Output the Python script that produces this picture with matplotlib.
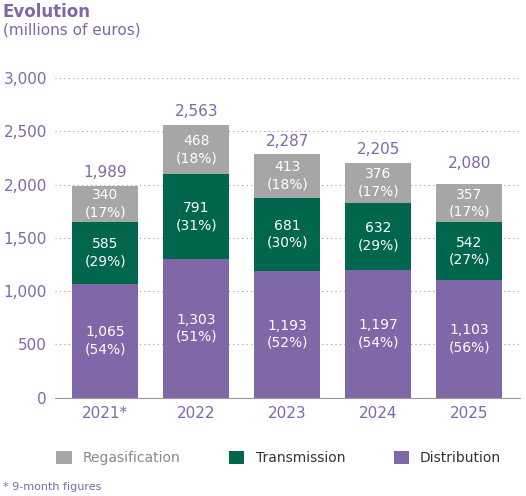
import matplotlib.pyplot as plt
import numpy as np

years = ["2021*", "2022", "2023", "2024", "2025"]
distribution = [1065, 1303, 1193, 1197, 1103]
transmission = [585, 791, 681, 632, 542]
regasification = [340, 468, 413, 376, 357]
dist_pct = [54, 51, 52, 54, 56]
trans_pct = [29, 31, 30, 29, 27]
regas_pct = [17, 18, 18, 17, 17]
totals = [1989, 2563, 2287, 2205, 2080]

purple = "#7f67a8"
green = "#00664e"
gray = "#a6a6a6"

fig = plt.figure(figsize=(5.26, 4.96), dpi=100)
ax = fig.add_axes([0.105, 0.198, 0.884, 0.645])
x = np.arange(len(years))
w = 0.73

d = np.array(distribution)
t = np.array(transmission)
r = np.array(regasification)
ax.bar(x, d, w, color=purple, label="Distribution", zorder=2)
ax.bar(x, t, w, bottom=d, color=green, label="Transmission", zorder=2)
ax.bar(x, r, w, bottom=d + t, color=gray, label="Regasification", zorder=2)

for i in range(len(x)):
    ax.text(x[i], d[i] / 2, f"{d[i]:,}\n({dist_pct[i]}%)", ha="center", va="center",
            color="white", fontsize=10, linespacing=1.3)
    ax.text(x[i], d[i] + t[i] / 2, f"{t[i]:,}\n({trans_pct[i]}%)", ha="center", va="center",
            color="white", fontsize=10, linespacing=1.3)
    ax.text(x[i], d[i] + t[i] + r[i] / 2, f"{r[i]:,}\n({regas_pct[i]}%)", ha="center", va="center",
            color="white", fontsize=10, linespacing=1.3)
    ax.text(x[i], totals[i] + 50, f"{totals[i]:,}", ha="center", va="bottom",
            color=purple, fontsize=11)

ax.set_xlim(-0.55, 4.56)
ax.set_ylim(0, 3000)
ax.set_yticks(range(0, 3001, 500))
ax.set_yticklabels([f"{v:,}" for v in range(0, 3001, 500)], color=purple, fontsize=11)
ax.set_xticks(x)
ax.set_xticklabels(years, color=purple, fontsize=11)
ax.tick_params(length=0, pad=6)
ax.yaxis.grid(True, linestyle=(0, (1, 3)), color="#999999", linewidth=0.8, zorder=0)
for s in ["top", "right", "left"]:
    ax.spines[s].set_visible(False)
ax.spines["bottom"].set_color("#999999")

fig.text(0.005, 0.975, "Evolution", color=purple, fontsize=12, fontweight="bold", va="center")
fig.text(0.005, 0.94, "(millions of euros)", color=purple, fontsize=11, va="center")

h, l = ax.get_legend_handles_labels()
fig.legend(h[::-1], l[::-1], loc="center", bbox_to_anchor=(0.53, 0.077), ncol=3, frameon=False,
           fontsize=10, handlelength=1.1, handleheight=1.1, columnspacing=3.5,
           labelcolor=["#888888", "#333333", "#333333"])
fig.text(0.005, 0.018, "* 9-month figures", color=purple, fontsize=8, va="center")

fig.savefig("out.png", dpi=100)
